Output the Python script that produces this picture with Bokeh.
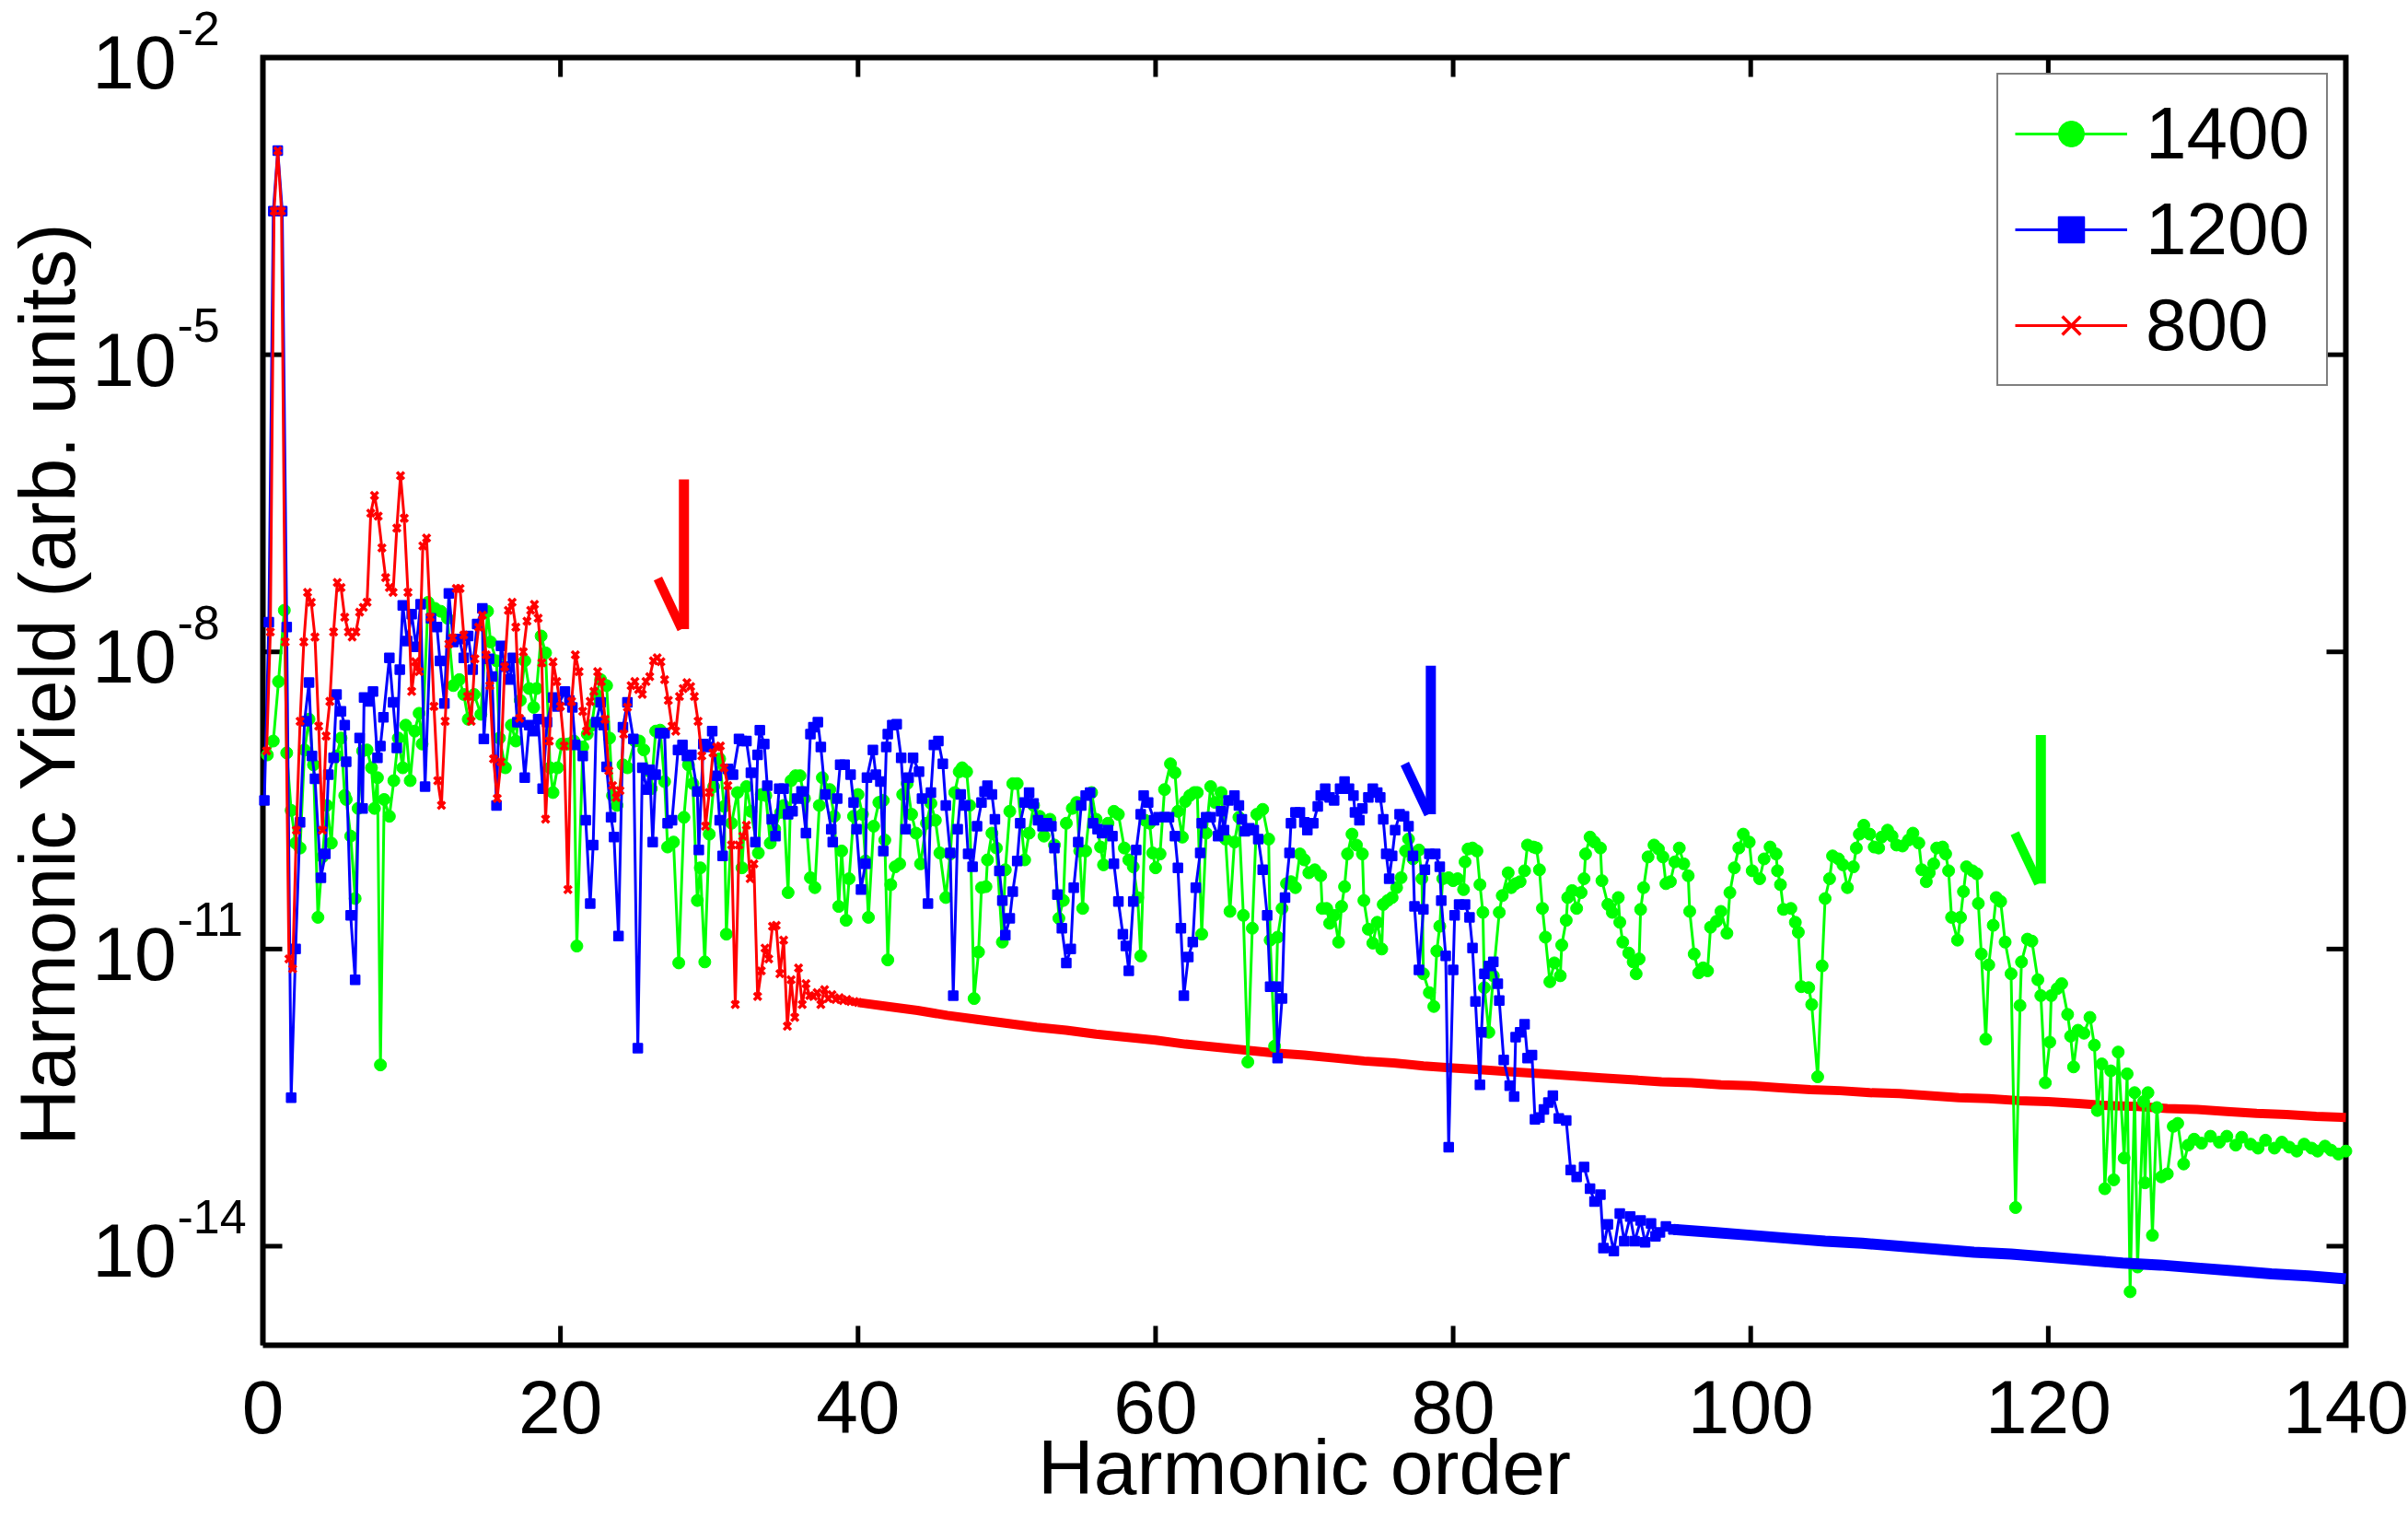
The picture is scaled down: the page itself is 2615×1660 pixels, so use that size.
import numpy as np
from bokeh.plotting import figure
from bokeh.models import Range1d, Label, Legend, LegendItem
from bokeh.embed import file_html
from bokeh.resources import INLINE

# ---------------------------------------------------------------------------
# HHG spectra: (harmonic order, log10 of harmonic yield) for three driving
# wavelengths in nm.
# ---------------------------------------------------------------------------
labels = ["1400", "1200", "800"]
colors = ["#00ff00", "#0000ff", "#ff0000"]

pts_1400 = [
    (0.3, -9.04), (0.7, -8.9), (1.05, -8.3), (1.44, -7.58), (1.6, -9.02), (1.9, -9.6),
    (2.2, -9.93), (2.5, -9.98), (2.8, -8.99), (3.1, -8.68), (3.4, -9.14), (3.7, -10.68),
    (4.0, -10.07), (4.3, -9.55), (4.6, -9.93), (4.95, -9.05), (5.25, -8.87), (5.5, -9.45),
    (5.6, -9.49), (5.9, -9.86), (6.2, -10.49), (6.4, -9.58), (6.7, -9.0), (7.0, -8.99),
    (7.3, -9.17), (7.5, -9.58), (7.7, -9.27), (7.9, -12.17), (8.15, -9.49), (8.5, -9.66),
    (8.8, -9.3), (9.1, -8.87), (9.4, -9.17), (9.6, -8.74), (9.9, -9.3), (10.2, -8.8),
    (10.5, -8.62), (10.7, -8.93), (11.1, -7.5), (11.55, -7.56), (11.95, -7.59), (12.4, -7.66),
    (12.8, -8.34), (13.2, -8.28), (13.5, -8.43), (13.8, -8.68), (14.2, -8.43), (14.65, -8.63),
    (15.1, -7.59), (15.3, -7.9), (15.7, -8.09), (15.9, -8.87), (16.3, -9.17), (16.7, -8.74),
    (17.0, -8.9), (17.3, -8.49), (17.6, -8.09), (17.9, -8.37), (18.2, -8.56), (18.4, -8.37),
    (18.7, -7.84), (19.0, -8.01), (19.3, -9.17), (19.5, -9.42), (19.8, -9.17), (20.1, -8.93),
    (20.5, -8.93), (20.9, -8.9), (21.1, -10.97), (21.5, -8.96), (21.8, -8.83), (22.1, -8.74),
    (22.4, -8.43), (22.7, -8.28), (23.1, -8.34), (23.3, -8.87), (23.5, -9.45), (23.8, -9.55),
    (24.2, -9.14), (24.5, -9.17), (25.0, -8.9), (25.3, -8.9), (25.6, -8.99), (25.9, -9.2),
    (26.1, -9.38), (26.4, -8.8), (26.7, -8.79), (27.0, -9.31), (27.2, -9.97), (27.6, -9.92),
    (27.95, -11.14), (28.3, -9.67), (28.6, -9.14), (28.9, -9.33), (29.2, -10.51), (29.4, -10.18),
    (29.7, -11.13), (30.0, -9.84), (30.3, -9.36), (30.7, -9.08), (31.0, -9.56), (31.15, -10.85),
    (31.5, -9.73), (31.9, -9.42), (32.2, -10.18), (32.5, -9.36), (32.8, -9.61), (33.3, -10.03),
    (33.5, -9.44), (33.8, -9.45), (34.1, -9.93), (34.4, -9.79), (34.8, -9.62), (35.0, -9.55),
    (35.3, -10.43), (35.5, -9.3), (35.8, -9.25), (36.1, -9.25), (36.4, -9.48), (36.8, -10.28),
    (37.1, -10.38), (37.4, -9.55), (37.6, -9.27), (38.1, -9.39), (38.4, -9.66), (38.7, -10.57),
    (38.9, -10.01), (39.2, -10.71), (39.4, -10.29), (39.7, -9.66), (40.0, -9.44), (40.3, -9.64),
    (40.5, -10.11), (40.7, -10.68), (41.05, -9.76), (41.4, -9.52), (41.7, -9.5), (41.8, -9.9),
    (42.0, -11.11), (42.2, -10.35), (42.5, -10.17), (42.8, -10.14), (43.0, -9.44), (43.3, -9.33),
    (43.6, -9.64), (43.9, -9.83), (44.2, -10.14), (44.6, -9.73), (44.9, -9.53), (45.2, -9.7),
    (45.5, -10.03), (45.9, -10.48), (46.2, -10.04), (46.5, -9.42), (46.8, -9.21), (47.0, -9.17),
    (47.3, -9.21), (47.5, -9.55), (47.8, -11.5), (48.1, -11.03), (48.3, -10.38), (48.6, -10.37),
    (48.7, -10.1), (49.0, -9.83), (49.3, -9.98), (49.7, -10.93), (49.9, -10.2), (50.2, -9.61),
    (50.4, -9.33), (50.7, -9.33), (51.2, -10.1), (51.5, -9.83), (51.8, -9.55), (52.2, -9.66),
    (52.5, -9.86), (52.9, -9.69), (53.2, -9.95), (53.5, -10.69), (53.8, -10.51), (54.0, -9.73),
    (54.4, -9.58), (54.7, -9.52), (54.9, -10.01), (55.1, -10.59), (55.3, -10.01), (55.7, -9.42),
    (56.0, -9.69), (56.3, -9.97), (56.5, -10.15), (56.8, -9.73), (57.2, -9.61), (57.5, -9.64),
    (57.9, -9.98), (58.2, -10.1), (58.5, -10.17), (58.8, -10.48), (59.0, -11.07), (59.3, -9.7),
    (59.6, -9.73), (59.8, -10.03), (60.0, -10.18), (60.3, -10.04), (60.6, -9.39), (61.0, -9.13),
    (61.3, -9.22), (61.5, -9.61), (61.8, -9.87), (62.0, -9.51), (62.3, -9.45), (62.6, -9.42),
    (62.8, -9.42), (63.1, -10.85), (63.4, -9.83), (63.7, -9.36), (64.0, -9.52), (64.4, -9.42),
    (64.7, -9.89), (65.0, -10.62), (65.3, -9.92), (65.6, -9.67), (65.9, -10.66), (66.2, -12.14),
    (66.5, -10.79), (66.8, -9.64), (67.2, -9.59), (67.6, -9.89), (67.7, -10.91), (68.0, -11.98),
    (68.2, -10.88), (68.5, -10.59), (68.8, -10.34), (69.1, -10.32), (69.4, -10.38), (69.7, -10.04),
    (70.0, -10.1), (70.3, -10.23), (70.7, -10.2), (71.1, -10.26), (71.2, -10.59), (71.5, -10.59),
    (71.7, -10.74), (72.0, -10.66), (72.3, -10.93), (72.5, -10.57), (72.7, -10.37), (72.9, -10.04),
    (73.2, -9.84), (73.5, -9.95), (73.9, -10.04), (74.0, -10.51), (74.3, -10.8), (74.6, -10.94),
    (74.9, -10.73), (75.2, -11.0), (75.3, -10.55), (75.6, -10.51), (75.9, -10.48), (76.2, -10.38),
    (76.5, -10.28), (76.8, -10.01), (77.0, -9.89), (77.3, -10.09), (77.7, -10.0), (77.9, -10.29),
    (78.0, -11.25), (78.4, -11.44), (78.7, -11.58), (78.9, -11.02), (79.1, -10.77), (79.3, -10.29),
    (79.7, -10.28), (80.0, -10.31), (80.3, -10.29), (80.7, -10.4), (80.8, -10.12), (81.0, -9.99),
    (81.3, -9.98), (81.6, -10.01), (81.8, -10.35), (82.0, -10.63), (82.1, -11.39), (82.4, -11.84),
    (82.7, -11.27), (83.1, -10.63), (83.3, -10.46), (83.7, -10.23), (83.9, -10.38), (84.2, -10.34),
    (84.5, -10.32), (84.8, -10.21), (85.0, -9.95), (85.4, -9.97), (85.6, -9.98), (85.8, -10.2),
    (86.0, -10.59), (86.2, -10.88), (86.5, -11.33), (86.8, -11.14), (87.2, -11.27), (87.3, -10.96),
    (87.6, -10.71), (87.7, -10.48), (88.0, -10.41), (88.3, -10.59), (88.6, -10.43), (88.8, -10.29),
    (88.9, -10.04), (89.2, -9.87), (89.5, -9.92), (89.9, -9.98), (90.0, -10.31), (90.4, -10.55),
    (90.7, -10.63), (91.1, -10.48), (91.2, -10.73), (91.4, -10.93), (91.8, -11.04), (92.1, -11.13),
    (92.3, -11.25), (92.5, -11.1), (92.6, -10.6), (92.8, -10.38), (93.1, -10.07), (93.5, -9.95),
    (93.8, -9.99), (94.1, -10.07), (94.3, -10.34), (94.6, -10.32), (94.9, -10.12), (95.2, -9.98),
    (95.5, -10.14), (95.8, -10.26), (95.9, -10.62), (96.2, -11.05), (96.5, -11.24), (96.8, -11.19),
    (97.1, -11.22), (97.3, -10.78), (97.7, -10.72), (98.0, -10.62), (98.4, -10.84), (98.6, -10.43),
    (98.9, -10.18), (99.2, -9.98), (99.5, -9.84), (99.9, -9.92), (100.1, -10.21), (100.6, -10.29),
    (100.9, -10.09), (101.3, -9.97), (101.7, -10.04), (101.8, -10.21), (102.0, -10.35), (102.2, -10.6),
    (102.7, -10.59), (103.0, -10.73), (103.2, -10.83), (103.4, -11.38), (103.9, -11.39), (104.1, -11.56),
    (104.5, -12.29), (104.8, -11.17), (105.0, -10.49), (105.3, -10.29), (105.5, -10.06), (105.9, -10.09),
    (106.2, -10.15), (106.5, -10.38), (106.9, -10.17), (107.1, -9.98), (107.3, -9.84), (107.6, -9.75),
    (108.0, -9.84), (108.3, -9.97), (108.6, -9.98), (108.8, -9.87), (109.2, -9.8), (109.5, -9.86),
    (109.8, -9.95), (110.2, -9.96), (110.6, -9.9), (110.9, -9.83), (111.3, -9.93), (111.5, -10.2),
    (111.8, -10.32), (112.0, -10.23), (112.3, -10.14), (112.5, -9.98), (112.9, -9.97), (113.1, -10.04),
    (113.3, -10.21), (113.5, -10.68), (113.9, -10.91), (114.1, -10.68), (114.3, -10.42), (114.5, -10.17),
    (114.9, -10.21), (115.2, -10.24), (115.3, -10.54), (115.5, -11.05), (115.8, -11.91), (116.0, -11.16),
    (116.3, -10.76), (116.5, -10.48), (116.8, -10.52), (117.1, -10.93), (117.5, -11.25), (117.8, -13.61),
    (118.1, -11.57), (118.2, -11.13), (118.6, -10.9), (118.9, -10.92), (119.3, -11.31), (119.5, -11.47),
    (119.8, -12.35), (120.1, -11.94), (120.2, -11.47), (120.6, -11.4), (120.9, -11.35), (121.3, -11.66),
    (121.5, -11.88), (121.7, -12.19), (122.0, -11.82), (122.4, -11.85), (122.8, -11.69), (123.1, -11.97),
    (123.3, -12.63), (123.6, -12.16), (123.8, -13.42), (124.2, -12.23), (124.4, -13.33), (124.7, -12.04),
    (125.1, -13.11), (125.3, -12.26), (125.5, -14.46), (125.8, -12.45), (126.0, -14.21), (126.4, -12.54),
    (126.5, -13.36), (126.7, -12.45), (127.0, -13.89), (127.3, -12.6), (127.6, -13.3), (128.0, -13.27),
    (128.4, -12.79), (128.7, -12.76), (129.1, -13.17), (129.4, -12.98), (129.8, -12.92), (130.3, -12.96),
    (130.9, -12.89), (131.5, -12.95), (132.0, -12.89), (132.6, -12.98), (133.0, -12.9), (133.6, -12.97),
    (134.1, -13.01), (134.6, -12.93), (135.2, -13.01), (135.7, -12.95), (136.2, -13.0), (136.7, -13.04),
    (137.2, -12.97), (137.7, -13.01), (138.1, -13.04), (138.6, -12.99), (139.0, -13.03), (139.5, -13.07),
    (140.0, -13.04),
]

pts_1200 = [
    (0.1, -9.5), (0.4, -7.7), (0.7, -3.55), (1.0, -2.94), (1.3, -3.55), (1.6, -7.75),
    (1.9, -12.5), (2.2, -11.0), (2.5, -9.72), (2.8, -8.7), (3.1, -8.31), (3.3, -9.05),
    (3.5, -9.28), (3.9, -10.28), (4.2, -10.04), (4.4, -9.24), (4.75, -9.07), (4.95, -8.43),
    (5.25, -8.6), (5.5, -8.74), (5.6, -9.11), (5.9, -10.66), (6.2, -11.31), (6.5, -8.87),
    (6.7, -9.58), (6.8, -8.46), (7.1, -8.5), (7.4, -8.4), (7.7, -9.07), (7.9, -8.95),
    (8.1, -8.66), (8.5, -8.06), (8.75, -8.51), (9.0, -8.97), (9.2, -8.18), (9.4, -7.53),
    (9.7, -7.89), (10.0, -7.62), (10.3, -7.95), (10.6, -7.52), (10.9, -9.36), (11.3, -7.66),
    (11.7, -7.75), (11.9, -8.09), (12.2, -8.52), (12.5, -7.41), (12.8, -7.9), (13.2, -7.87),
    (13.5, -8.06), (13.8, -7.84), (14.1, -8.18), (14.4, -7.72), (14.75, -7.56), (14.85, -8.88),
    (15.2, -8.07), (15.4, -8.25), (15.7, -9.55), (16.0, -7.94), (16.3, -8.15), (16.6, -8.28),
    (16.8, -8.06), (17.1, -8.71), (17.3, -8.71), (17.6, -9.27), (17.9, -8.74), (18.2, -8.8),
    (18.5, -8.68), (18.8, -9.38), (19.1, -8.71), (19.5, -8.46), (19.8, -8.55), (20.3, -8.4),
    (20.6, -8.49), (20.8, -8.56), (21.0, -8.94), (21.5, -9.05), (21.7, -9.7), (22.0, -10.54),
    (22.2, -9.95), (22.4, -8.71), (22.7, -8.51), (22.9, -8.74), (23.1, -9.16), (23.4, -9.67),
    (23.6, -9.87), (23.9, -10.87), (24.2, -8.76), (24.5, -8.51), (24.9, -8.88), (25.2, -12.0),
    (25.5, -9.17), (25.8, -9.39), (26.0, -9.19), (26.2, -9.92), (26.4, -9.24), (26.7, -8.82),
    (27.0, -8.82), (27.2, -9.73), (27.5, -9.7), (27.9, -8.99), (28.2, -8.94), (28.5, -9.05),
    (28.8, -9.04), (29.2, -9.41), (29.3, -10.0), (29.6, -8.93), (29.9, -8.96), (30.2, -8.8),
    (30.5, -9.25), (30.7, -9.7), (30.9, -10.06), (31.25, -9.18), (31.6, -9.24), (32.0, -8.88),
    (32.2, -8.9), (32.5, -8.9), (32.8, -9.22), (33.1, -9.92), (33.25, -9.04), (33.4, -8.79),
    (33.7, -8.93), (33.9, -9.35), (34.2, -9.69), (34.45, -9.86), (34.7, -9.38), (35.0, -9.38),
    (35.3, -9.64), (35.6, -9.61), (35.9, -9.48), (36.2, -9.41), (36.5, -9.83), (36.8, -8.83),
    (37.0, -8.76), (37.3, -8.71), (37.5, -8.96), (37.8, -9.44), (38.2, -9.79), (38.3, -9.92),
    (38.6, -9.48), (38.8, -9.14), (39.1, -9.14), (39.5, -9.24), (39.7, -9.52), (39.9, -9.79),
    (40.2, -10.4), (40.5, -10.14), (40.6, -9.27), (41.0, -8.99), (41.2, -9.24), (41.5, -9.31),
    (41.7, -10.01), (41.9, -8.96), (42.0, -8.83), (42.3, -8.74), (42.6, -8.73), (42.9, -9.07),
    (43.2, -9.79), (43.4, -9.27), (43.7, -9.07), (44.1, -9.21), (44.3, -9.48), (44.7, -10.54),
    (44.9, -9.42), (45.1, -8.94), (45.4, -8.9), (45.7, -9.13), (45.9, -9.55), (46.2, -10.03),
    (46.4, -11.47), (46.7, -9.79), (46.9, -9.44), (47.2, -9.55), (47.4, -10.04), (47.7, -10.17),
    (48.0, -9.76), (48.3, -9.52), (48.5, -9.41), (48.7, -9.35), (49.0, -9.44), (49.2, -9.69),
    (49.5, -10.21), (49.7, -10.51), (49.9, -10.86), (50.2, -10.69), (50.4, -10.42), (50.7, -10.11),
    (50.9, -9.73), (51.2, -9.52), (51.5, -9.42), (51.8, -9.53), (52.1, -9.7), (52.4, -9.76),
    (52.7, -9.73), (53.0, -9.76), (53.2, -9.98), (53.4, -10.45), (53.7, -10.79), (54.0, -11.14),
    (54.3, -11.0), (54.5, -10.38), (54.8, -9.92), (55.0, -9.55), (55.3, -9.45), (55.6, -9.42),
    (55.8, -9.73), (56.1, -9.79), (56.4, -9.83), (56.8, -9.8), (57.1, -9.86), (57.2, -10.14),
    (57.5, -10.52), (57.8, -10.85), (58.0, -10.97), (58.2, -11.22), (58.5, -10.52), (58.7, -10.0),
    (59.0, -9.64), (59.2, -9.45), (59.5, -9.52), (59.9, -9.7), (60.2, -9.67), (60.6, -9.67),
    (60.9, -9.67), (61.3, -9.86), (61.5, -10.18), (61.7, -10.79), (61.9, -11.47), (62.2, -11.08),
    (62.5, -10.93), (62.7, -10.38), (63.0, -10.03), (63.1, -9.73), (63.4, -9.67), (63.7, -9.67),
    (64.2, -9.86), (64.4, -9.61), (64.6, -9.8), (64.9, -9.5), (65.3, -9.45), (65.6, -9.55),
    (65.8, -9.69), (66.0, -9.81), (66.3, -9.78), (66.6, -9.8), (66.9, -9.89), (67.2, -10.2),
    (67.5, -10.66), (67.7, -11.38), (68.1, -11.38), (68.2, -12.1), (68.5, -11.5), (68.7, -10.48),
    (69.0, -10.03), (69.1, -9.73), (69.4, -9.62), (69.7, -9.62), (70.0, -9.72), (70.2, -9.8),
    (70.6, -9.73), (70.9, -9.56), (71.1, -9.45), (71.4, -9.38), (71.7, -9.47), (72.0, -9.5),
    (72.4, -9.38), (72.7, -9.31), (73.0, -9.38), (73.3, -9.45), (73.4, -9.62), (73.7, -9.7),
    (73.9, -9.58), (74.3, -9.47), (74.6, -9.38), (74.9, -9.42), (75.1, -9.47), (75.3, -9.69),
    (75.5, -10.04), (75.7, -10.29), (75.9, -10.06), (76.1, -9.8), (76.4, -9.64), (76.7, -9.66),
    (77.0, -9.76), (77.3, -10.06), (77.4, -10.57), (77.7, -11.21), (78.0, -10.6), (78.1, -10.2),
    (78.4, -10.04), (78.8, -10.04), (79.1, -10.17), (79.2, -10.51), (79.5, -11.07), (79.7, -13.0),
    (80.0, -11.21), (80.1, -10.66), (80.4, -10.55), (80.8, -10.55), (81.1, -10.68), (81.3, -10.99),
    (81.5, -11.53), (81.8, -12.37), (81.9, -11.84), (82.1, -11.25), (82.4, -11.17), (82.7, -11.13),
    (83.0, -11.35), (83.1, -11.52), (83.4, -12.12), (83.8, -12.38), (84.1, -12.49), (84.2, -11.89),
    (84.5, -11.84), (84.8, -11.76), (85.0, -12.1), (85.3, -12.07), (85.5, -12.72), (85.8, -12.7),
    (86.1, -12.62), (86.4, -12.55), (86.7, -12.48), (87.1, -12.71), (87.6, -12.73), (87.9, -13.23),
    (88.3, -13.3), (88.8, -13.2), (89.2, -13.42), (89.5, -13.55), (89.9, -13.48), (90.1, -14.02),
    (90.4, -13.78), (90.8, -14.05), (91.2, -13.67), (91.5, -13.95), (91.9, -13.7), (92.2, -13.95),
    (92.6, -13.74), (92.9, -13.96), (93.3, -13.77), (93.6, -13.9), (93.9, -13.86), (94.3, -13.8),
    (94.8, -13.83),
]

# smooth high-order tail of the 1200 nm spectrum
tail_1200 = [
    (94.8, -13.83), (97.5, -13.86), (100.0, -13.89), (102.5, -13.92), (105.0, -13.95),
    (107.5, -13.97), (110.0, -14.0), (112.5, -14.03), (115.0, -14.06), (117.5, -14.08),
    (120.0, -14.11), (122.5, -14.14), (125.0, -14.17), (127.5, -14.19), (130.0, -14.22),
    (132.5, -14.25), (135.0, -14.28), (137.5, -14.3), (140.0, -14.33),
]

pts_800 = [
    (0.25, -9.0), (0.5, -7.8), (0.75, -3.55), (1.0, -2.94), (1.25, -3.55), (1.5, -7.9),
    (1.75, -11.1), (2.0, -11.2), (2.25, -9.8), (2.5, -8.7), (2.75, -7.9), (3.0, -7.4),
    (3.25, -7.5), (3.5, -7.85), (3.75, -8.75), (4.0, -9.8), (4.25, -8.85), (4.5, -8.5),
    (4.75, -7.8), (5.0, -7.3), (5.25, -7.35), (5.5, -7.65), (5.75, -7.8), (6.0, -7.85),
    (6.25, -7.8), (6.5, -7.6), (6.75, -7.55), (7.0, -7.5), (7.25, -6.6), (7.5, -6.42),
    (7.75, -6.63), (8.0, -6.95), (8.25, -7.25), (8.5, -7.35), (8.75, -7.4), (9.0, -6.75),
    (9.25, -6.22), (9.5, -6.65), (9.75, -7.4), (10.0, -8.4), (10.25, -8.1), (10.5, -8.2),
    (10.75, -6.93), (11.0, -6.85), (11.25, -7.65), (11.5, -8.55), (11.75, -9.3), (12.0, -9.55),
    (12.25, -8.7), (12.5, -7.92), (12.75, -7.86), (13.0, -7.36), (13.25, -7.36), (13.5, -7.83),
    (13.75, -8.45), (14.0, -8.7), (14.25, -8.07), (14.5, -7.75), (14.75, -7.63), (15.0, -8.03),
    (15.25, -8.34), (15.5, -9.08), (15.75, -9.48), (16.0, -9.11), (16.25, -8.15), (16.5, -7.58),
    (16.75, -7.5), (17.0, -7.75), (17.25, -8.67), (17.5, -8.0), (17.75, -7.69), (18.0, -7.58),
    (18.25, -7.52), (18.5, -7.66), (18.75, -8.11), (19.0, -9.69), (19.25, -8.9), (19.5, -8.1),
    (19.75, -8.3), (20.0, -8.55), (20.25, -8.95), (20.5, -10.4), (20.75, -8.5), (21.0, -8.03),
    (21.25, -8.2), (21.5, -8.6), (21.75, -8.8), (22.0, -8.5), (22.25, -8.4), (22.5, -8.2),
    (22.75, -8.3), (23.0, -8.68), (23.25, -9.2), (23.5, -9.35), (23.75, -9.47), (24.0, -9.4),
    (24.25, -8.83), (24.5, -8.56), (24.75, -8.34), (25.0, -8.3), (25.25, -8.38), (25.5, -8.43),
    (25.75, -8.3), (26.0, -8.25), (26.25, -8.09), (26.5, -8.06), (26.75, -8.1), (27.0, -8.28),
    (27.25, -8.49), (27.5, -8.75), (27.75, -8.8), (28.0, -8.45), (28.25, -8.37), (28.5, -8.31),
    (28.75, -8.35), (29.0, -8.45), (29.25, -8.7), (29.5, -9.05), (29.75, -9.76), (30.0, -9.42),
    (30.25, -9.02), (30.5, -8.96), (30.75, -8.95), (31.0, -9.17), (31.25, -9.35), (31.5, -9.95),
    (31.75, -11.56), (32.0, -9.95), (32.25, -9.86), (32.5, -9.75), (32.75, -10.29), (33.0, -10.14),
    (33.25, -11.48), (33.5, -11.22), (33.75, -10.99), (34.0, -11.1), (34.25, -10.77), (34.5, -10.76),
    (34.75, -11.25), (35.0, -10.91), (35.25, -11.78), (35.5, -11.31), (35.75, -11.69), (36.0, -11.19),
    (36.25, -11.56), (36.5, -11.35), (36.75, -11.47), (37.0, -11.48), (37.25, -11.44), (37.5, -11.56),
    (37.75, -11.41), (38.0, -11.5), (38.25, -11.46), (38.5, -11.51), (38.75, -11.49), (39.0, -11.52),
    (39.25, -11.51), (39.5, -11.53), (39.75, -11.53), (40.0, -11.54),
]

# smooth high-order tail of the 800 nm spectrum
tail_800 = [
    (40.0, -11.54), (42.0, -11.58), (44.0, -11.62), (46.0, -11.67), (48.0, -11.71), (50.0, -11.75),
    (52.0, -11.79), (54.0, -11.82), (56.0, -11.86), (58.0, -11.89), (60.0, -11.92), (62.0, -11.96),
    (64.0, -11.99), (66.0, -12.02), (68.0, -12.05), (70.0, -12.07), (72.0, -12.1), (74.0, -12.13),
    (76.0, -12.15), (78.0, -12.18), (80.0, -12.2), (82.0, -12.22), (84.0, -12.24), (86.0, -12.26),
    (88.0, -12.28), (90.0, -12.3), (92.0, -12.32), (94.0, -12.34), (96.0, -12.35), (98.0, -12.37),
    (100.0, -12.38), (102.0, -12.4), (104.0, -12.42), (106.0, -12.43), (108.0, -12.45), (110.0, -12.46),
    (112.0, -12.48), (114.0, -12.5), (116.0, -12.51), (118.0, -12.53), (120.0, -12.54), (122.0, -12.56),
    (124.0, -12.58), (126.0, -12.59), (128.0, -12.61), (130.0, -12.62), (132.0, -12.64), (134.0, -12.66),
    (136.0, -12.67), (138.0, -12.69), (140.0, -12.7),
]

# cutoff markers: (harmonic, log10 top, log10 bottom) of each tick-shaped arrow
cutoffs = [(28.3, -6.26, -7.77), (78.5, -8.14, -9.64), (119.5, -8.84, -10.34)]
cutoff_colors = ["#ff0000", "#0000ff", "#00ff00"]

x_ticks = [0, 20, 40, 60, 80, 100, 120, 140]
y_tick_exps = [-14, -11, -8, -5, -2]

FONT = "Liberation Sans"
X_MIN, X_MAX = 0, 140          # axis box, harmonic order
LOG_MIN, LOG_MAX = -15, -2     # axis box, log10 yield

# canvas geometry: the box sits at pixels 285..2547 (x) and 62..1460 (y)
W, H = 2615, 1660
BOX_L, BOX_R, BOX_T, BOX_B = 285, 2547, 62, 1460
PX_X = (BOX_R - BOX_L) / (X_MAX - X_MIN)      # px per harmonic
PX_Y = (BOX_B - BOX_T) / (LOG_MAX - LOG_MIN)  # px per decade


def unpack(pts):
    h = [a for a, _ in pts]
    y = [10.0 ** b for _, b in pts]
    return h, y


def lg(v):
    return 10.0 ** v


# the plotting frame spans the whole canvas so that labels around the box stay visible
x_lo = X_MIN - BOX_L / PX_X
x_hi = X_MAX + (W - BOX_R) / PX_X
y_lo = LOG_MIN - (H - BOX_B) / PX_Y
y_hi = LOG_MAX + BOX_T / PX_Y

p = figure(width=W, height=H,
           x_range=Range1d(x_lo, x_hi), y_range=Range1d(lg(y_lo), lg(y_hi)),
           y_axis_type="log", x_axis_location=None, y_axis_location=None,
           output_backend="svg", toolbar_location=None,
           min_border=0, min_border_left=0, min_border_right=0,
           min_border_top=0, min_border_bottom=0,
           background_fill_color="white", border_fill_color="white")
p.grid.visible = False
p.outline_line_color = None

# --- axis box
p.line([X_MIN, X_MAX, X_MAX, X_MIN, X_MIN],
       [lg(LOG_MIN), lg(LOG_MIN), lg(LOG_MAX), lg(LOG_MAX), lg(LOG_MIN)],
       line_color="black", line_width=6, line_join="miter")

# --- inward ticks on all four sides
tlx = 21.0 / PX_X
tly = 21.0 / PX_Y
yt = [lg(e) for e in y_tick_exps]
n_y, n_x = len(yt), len(x_ticks)
p.segment(x0=[X_MIN] * n_y, x1=[X_MIN + tlx] * n_y, y0=yt, y1=yt,
          line_color="black", line_width=5)
p.segment(x0=[X_MAX] * n_y, x1=[X_MAX - tlx] * n_y, y0=yt, y1=yt,
          line_color="black", line_width=5)
p.segment(x0=x_ticks, x1=x_ticks, y0=[lg(LOG_MAX)] * n_x,
          y1=[lg(LOG_MAX - tly)] * n_x, line_color="black", line_width=5)
p.segment(x0=x_ticks, x1=x_ticks, y0=[lg(LOG_MIN)] * n_x,
          y1=[lg(LOG_MIN + tly)] * n_x, line_color="black", line_width=5)

# --- x tick labels
for t in x_ticks:
    p.add_layout(Label(x=t, y=lg(LOG_MIN), y_offset=-67, text=str(t),
                       text_align="center", text_baseline="middle",
                       text_font=FONT, text_font_size="82px", text_color="black"))

# --- y tick labels written as 10 with a raised exponent
for e in y_tick_exps:
    p.add_layout(Label(x=X_MIN, x_offset=-94, y=lg(e), y_offset=-5, text="10",
                       text_align="right", text_baseline="middle",
                       text_font=FONT, text_font_size="82px", text_color="black"))
    p.add_layout(Label(x=X_MIN, x_offset=-93, y=lg(e), y_offset=32, text=str(e),
                       text_align="left", text_baseline="middle",
                       text_font=FONT, text_font_size="52px", text_color="black"))

# --- axis titles
p.add_layout(Label(x=(X_MIN + X_MAX) / 2, y=lg(LOG_MIN), y_offset=-132,
                   text="Harmonic order",
                   text_align="center", text_baseline="middle",
                   text_font=FONT, text_font_size="84px", text_color="black"))
p.add_layout(Label(x=X_MIN, x_offset=-234, y=lg((LOG_MIN + LOG_MAX) / 2),
                   y_offset=19, text="Harmonic Yield (arb. units)",
                   angle=np.pi / 2, text_align="center", text_baseline="middle",
                   text_font=FONT, text_font_size="85px", text_color="black"))

# --- spectra
g_col, b_col, r_col = colors[0], colors[1], colors[2]

hx, hy = unpack(tail_800)
p.line(hx, hy, line_color=r_col, line_width=10)

gx, gy = unpack(pts_1400)
g_line = p.line(gx, gy, line_color=g_col, line_width=3)
g_pts = p.scatter(gx, gy, marker="circle", size=13, fill_color=g_col, line_color=g_col)

bx, by = unpack(pts_1200)
b_line = p.line(bx, by, line_color=b_col, line_width=3)
b_pts = p.scatter(bx, by, marker="square", size=10, fill_color=b_col, line_color=b_col,
                  line_width=1.5)
tx, ty = unpack(tail_1200)
p.line(tx, ty, line_color=b_col, line_width=12)

rx, ry = unpack(pts_800)
r_line = p.line(rx, ry, line_color=r_col, line_width=3)
r_pts = p.scatter(rx, ry, marker="x", size=11, line_color=r_col, line_width=3.5)

# --- cutoff arrows (tick shaped)
for (hc, top, bot), col in zip(cutoffs, cutoff_colors):
    p.line([hc, hc], [lg(top), lg(bot)], line_color=col, line_width=11,
           line_cap="butt")
    p.line([hc - 1.75, hc - 0.15], [lg(bot + 0.51), lg(bot)],
           line_color=col, line_width=10, line_cap="butt")

# --- legend, anchored by its lower-left corner
legend = Legend(items=[
    LegendItem(label=labels[0], renderers=[g_line, g_pts]),
    LegendItem(label=labels[1], renderers=[b_line, b_pts]),
    LegendItem(label=labels[2], renderers=[r_line, r_pts]),
], location=(2168, H - 419))
legend.border_line_color = "black"
legend.border_line_width = 2
legend.background_fill_color = "white"
legend.background_fill_alpha = 1.0
legend.padding = 18
legend.spacing = 12
legend.margin = 0
legend.glyph_width = 122
legend.glyph_height = 70
legend.label_height = 70
legend.label_standoff = 20
legend.label_text_font = FONT
legend.label_text_font_size = "80px"
legend.label_text_color = "black"
legend.label_text_baseline = "middle"
p.add_layout(legend, "center")

open("out.html", "w").write(file_html(p, INLINE))
